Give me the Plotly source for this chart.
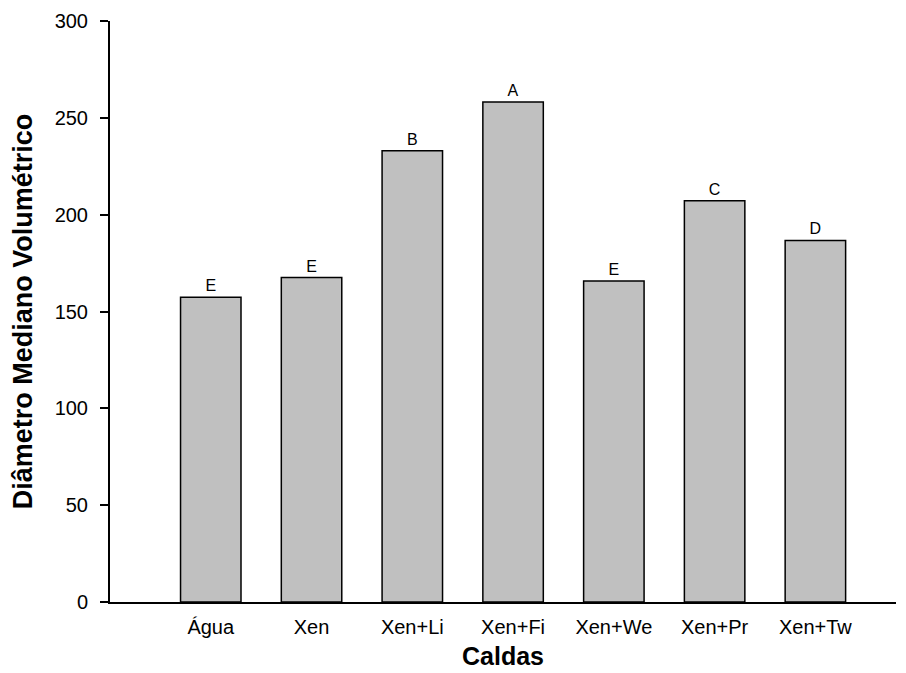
import plotly.graph_objects as go

categorias = ["Água", "Xen", "Xen+Li", "Xen+Fi", "Xen+We", "Xen+Pr", "Xen+Tw"]
dmv = [157.4, 167.5, 233.0, 258.2, 165.7, 207.2, 186.7]
letras = ["E", "E", "B", "A", "E", "C", "D"]
y_ticks = [0, 50, 100, 150, 200, 250, 300]

FONT = "Liberation Sans, Arial, sans-serif"

fig = go.Figure(go.Bar(
    x=list(range(len(categorias))),
    y=dmv,
    width=0.6,
    marker=dict(color="#c0c0c0", line=dict(color="black", width=1.5)),
    text=letras,
    textposition="outside",
    textfont=dict(family=FONT, size=16, color="black"),
    cliponaxis=False,
))

fig.update_layout(
    width=898, height=665,
    margin=dict(l=102, r=10, t=13, b=71),
    plot_bgcolor="white", paper_bgcolor="white",
    showlegend=False,
    font=dict(family=FONT, color="black"),
    xaxis=dict(
        range=[-1.0, 6.8],
        tickmode="array",
        tickvals=list(range(len(categorias))),
        ticktext=categorias,
        showline=True, linecolor="black", linewidth=2,
        ticks="", showgrid=False, zeroline=False,
        tickfont=dict(size=20),
        ticklabelstandoff=6,
        automargin=False,
        title=dict(text="<b>Caldas</b>", font=dict(size=25), standoff=10),
    ),
    yaxis=dict(
        range=[0, 300],
        tickmode="array", tickvals=y_ticks,
        showline=True, linecolor="black", linewidth=2,
        ticks="outside", ticklen=8, tickwidth=1.5, tickcolor="black",
        ticklabelstandoff=8,
        showgrid=False, zeroline=False,
        tickfont=dict(size=20),
        automargin=False,
        title=dict(text="<b>Diâmetro Mediano Volumétrico</b>", font=dict(size=27), standoff=16),
    ),
)

fig.write_html("out.html")
